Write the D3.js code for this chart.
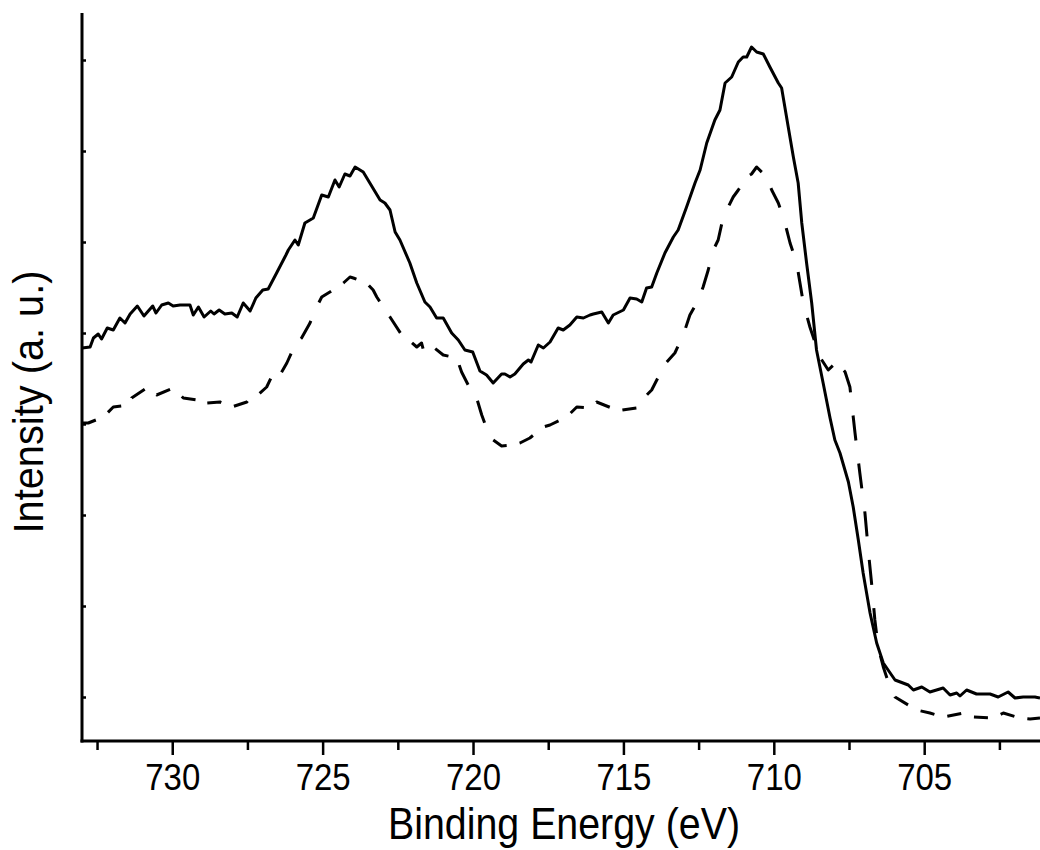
<!DOCTYPE html>
<html>
<head>
<meta charset="utf-8">
<script src="https://cdn.jsdelivr.net/npm/d3@7/dist/d3.min.js"></script>
<style>
  html, body { margin: 0; padding: 0; background: #fff; }
  svg { display: block; }
  text { font-family: "Liberation Sans", Arial, sans-serif; fill: #000; }
</style>
</head>
<body>
<svg id="chart" width="1040" height="850"></svg>
<script>
// ---- data (binding energy in eV, intensity in arbitrary units) ----
const solidEnergy = [733.00,732.73,732.62,732.46,732.35,732.16,731.96,731.74,731.57,731.40,731.16,730.94,730.65,730.54,730.35,730.13,729.97,729.74,729.41,729.30,729.13,728.94,728.72,728.61,728.44,728.25,728.02,727.84,727.64,727.41,727.22,726.99,726.81,726.53,726.22,726.14,725.92,725.81,725.59,725.42,725.31,725.03,724.81,724.59,724.45,724.26,724.09,723.92,723.65,723.43,723.09,722.93,722.76,722.59,722.43,722.10,721.87,721.60,721.43,721.21,720.99,720.71,720.49,720.27,720.01,719.77,719.55,719.33,719.05,718.94,718.77,718.61,718.33,718.16,718.07,717.83,717.66,717.44,717.17,717.00,716.78,716.55,716.33,716.11,716.00,715.72,715.50,715.34,715.00,714.78,714.56,714.39,714.23,714.06,713.89,713.62,713.34,713.18,712.90,712.62,712.45,712.23,711.96,711.79,711.62,711.40,711.18,711.02,710.90,710.74,710.57,710.35,710.13,709.85,709.74,709.52,709.35,709.19,709.07,708.91,708.74,708.58,708.36,708.13,707.97,707.80,707.52,707.36,707.19,707.03,706.80,706.58,706.36,705.97,705.53,705.36,705.08,704.81,704.37,704.14,703.92,703.81,703.59,703.26,702.81,702.54,702.21,701.98,701.71,701.32,701.15];
const solidIntensity = [393,394,403,407,402,413,411,423,418,427,435,425,435,428,436,438,435,436,436,426,434,424,430,427,431,427,428,424,438,430,443,451,452,468,486,491,501,496,518,521,523,546,544,561,554,567,565,574,569,558,541,538,531,509,501,478,458,439,434,423,423,408,401,391,389,370,366,358,367,367,364,367,377,381,379,396,393,399,413,411,416,424,423,426,427,429,418,426,431,443,442,439,453,454,468,488,504,511,534,558,571,598,621,631,658,664,679,684,684,694,689,687,674,658,653,614,584,558,518,478,438,391,358,323,301,288,259,234,201,168,128,98,78,61,56,51,54,49,53,46,48,45,51,47,47,44,49,43,44,44,43];

const dashedEnergy = [733.00,732.79,732.29,731.96,731.40,731.35,730.80,730.52,729.97,729.63,729.19,729.02,728.85,728.41,728.02,727.52,727.41,727.19,726.86,726.64,726.42,726.19,725.92,725.70,725.42,725.25,725.03,724.76,724.31,724.09,723.98,723.54,723.32,723.20,722.76,722.37,722.21,721.87,721.71,721.65,721.32,720.99,720.54,720.38,720.16,719.88,719.71,719.55,719.33,719.05,718.66,718.44,718.11,717.66,717.44,716.89,716.55,716.11,715.89,715.39,715.22,715.06,714.56,714.39,714.06,713.84,713.56,713.29,713.01,712.79,712.51,712.35,712.18,712.01,711.85,711.68,711.35,711.18,710.90,710.74,710.57,710.24,710.07,709.85,709.69,709.57,709.46,709.24,709.13,709.02,708.80,708.58,708.47,708.19,707.91,707.63,707.47,707.30,707.14,706.97,706.86,706.75,706.64,706.53,706.36,706.14,705.97,705.53,705.25,704.81,704.37,703.70,703.37,702.70,702.37,701.82,701.48,701.15];
const dashedIntensity = [318,318,324,334,336,343,354,346,353,343,341,344,338,339,334,339,343,345,354,368,366,378,396,403,418,431,444,449,458,464,463,458,451,444,424,406,403,394,398,391,394,386,383,369,356,343,326,313,301,295,296,298,303,314,316,324,334,333,339,333,334,331,333,341,351,364,379,388,406,426,441,454,471,491,501,524,544,551,564,567,574,564,551,538,524,511,498,478,458,438,414,394,384,371,379,369,354,308,268,228,191,158,121,94,74,54,44,36,31,28,24,28,24,23,28,23,22,23];

const xMajorTicks = [730, 725, 720, 715, 710, 705];
const xMinorTicks = [732.5, 727.5, 722.5, 717.5, 712.5, 707.5, 702.5];
const yTicks = [44, 135, 226, 317, 408, 499, 590, 681];
const xDomain = [733, 701.15];
const yDomain = [0, 728];
const xTitle = "Binding Energy (eV)";
const yTitle = "Intensity (a. u.)";

// ---- layout ----
const plotLeft = 82, plotRight = 1040, plotTop = 13, plotBottom = 741;
const svg = d3.select("#chart");

const x = d3.scaleLinear().domain(xDomain).range([plotLeft, plotRight]);
const y = d3.scaleLinear().domain(yDomain).range([plotBottom, plotTop]);

const line = d3.line().x(d => x(d[0])).y(d => y(d[1])).curve(d3.curveLinear);
const pixLine = d3.line().curve(d3.curveLinear);

const solid = solidEnergy.map((e, i) => [e, solidIntensity[i]]);
const dashed = dashedEnergy.map((e, i) => [e, dashedIntensity[i]]);

// dash pattern measured with a squeezed vertical metric (as in the source plot)
function dashPieces(pts, on, off, ky) {
  const out = [];
  let drawing = true, remain = on, cur = [pts[0]];
  for (let i = 1; i < pts.length; i++) {
    const [x0, y0] = pts[i - 1], [x1, y1] = pts[i];
    const segLen = Math.hypot(x1 - x0, ky * (y1 - y0));
    if (segLen === 0) continue;
    let t = 0;
    while (segLen - t > remain) {
      t += remain;
      const f = t / segLen;
      const p = [x0 + (x1 - x0) * f, y0 + (y1 - y0) * f];
      if (drawing) { cur.push(p); out.push(cur); cur = null; drawing = false; remain = off; }
      else { cur = [p]; drawing = true; remain = on; }
    }
    remain -= segLen - t;
    if (drawing) cur.push([x1, y1]);
  }
  if (drawing && cur && cur.length > 1) out.push(cur);
  return out;
}

const dashedPix = dashed.map(d => [x(d[0]), y(d[1])]);
svg.append("g").selectAll("path")
  .data(dashPieces(dashedPix, 14, 13, 0.55))
  .join("path")
  .attr("d", pixLine).attr("fill", "none").attr("stroke", "#000")
  .attr("stroke-width", 3).attr("stroke-linejoin", "round");

svg.append("path").datum(solid)
  .attr("d", line).attr("fill", "none").attr("stroke", "#000")
  .attr("stroke-width", 3).attr("stroke-linejoin", "round");

// ---- x axis ----
const xAxis = d3.axisBottom(x).tickValues(xMajorTicks).tickSize(14).tickSizeOuter(0)
  .tickFormat(d3.format("d"));
const gx = svg.append("g").attr("transform", `translate(0,${plotBottom})`).call(xAxis);
gx.select(".domain").remove();
gx.selectAll(".tick line").attr("stroke", "#000").attr("stroke-width", 2.5);
gx.selectAll(".tick text")
  .attr("font-size", 37).attr("y", 49).attr("dy", 0)
  .attr("textLength", 55).attr("lengthAdjust", "spacingAndGlyphs")
  .style("font-family", '"Liberation Sans", Arial, sans-serif');

const xMinor = d3.axisBottom(x).tickValues(xMinorTicks).tickSize(9).tickFormat("");
const gxm = svg.append("g").attr("transform", `translate(0,${plotBottom})`).call(xMinor);
gxm.select(".domain").remove();
gxm.selectAll(".tick line").attr("stroke", "#000").attr("stroke-width", 2.5);

// ---- y axis (inward ticks, no labels) ----
const yAxis = d3.axisRight(y).tickValues(yTicks).tickSize(4).tickFormat("");
const gy = svg.append("g").attr("transform", `translate(${plotLeft},0)`).call(yAxis);
gy.select(".domain").remove();
gy.selectAll(".tick line").attr("stroke", "#000").attr("stroke-width", 2.5);

// axis lines
svg.append("line").attr("x1", plotLeft).attr("x2", plotLeft).attr("y1", plotTop).attr("y2", plotBottom + 1.5)
  .attr("stroke", "#000").attr("stroke-width", 3);
svg.append("line").attr("x1", plotLeft - 1.5).attr("x2", plotRight).attr("y1", plotBottom).attr("y2", plotBottom)
  .attr("stroke", "#000").attr("stroke-width", 3);

// ---- titles ----
svg.append("text").attr("x", 564).attr("y", 839)
  .attr("text-anchor", "middle").attr("font-size", 45)
  .attr("textLength", 352).attr("lengthAdjust", "spacingAndGlyphs")
  .text(xTitle);

svg.append("text")
  .attr("transform", "translate(43,402) rotate(-90)")
  .attr("text-anchor", "middle").attr("font-size", 42)
  .attr("textLength", 263).attr("lengthAdjust", "spacingAndGlyphs")
  .text(yTitle);
</script>
</body>
</html>
